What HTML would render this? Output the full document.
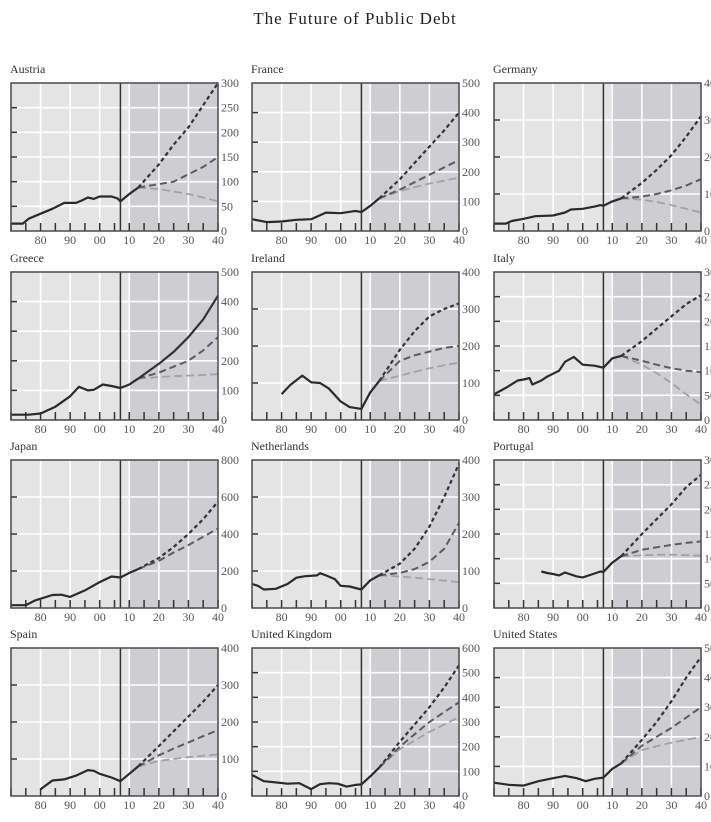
<!DOCTYPE html>
<html><head><meta charset="utf-8">
<style>
html,body{margin:0;padding:0;background:#fff;}
body{width:711px;height:822px;overflow:hidden;position:relative;}
svg{position:absolute;left:0;top:0;}
text{font-family:"Liberation Serif",serif;}
</style></head>
<body>
<svg id="chart" width="711" height="822" viewBox="0 0 711 822">
<text x="355" y="24" text-anchor="middle" font-size="17" letter-spacing="1" fill="#222">The Future of Public Debt</text>
</svg>
<script>
const countries = ["Austria","France","Germany","Greece","Ireland","Italy","Japan","Netherlands","Portugal","Spain","United Kingdom","United States"];
const yMax = [300,500,400,500,400,300,800,400,300,400,600,500];
const yStep = [50,100,100,100,100,50,200,100,50,100,100,100];
const histYears = [
 [1970,1972,1974,1976,1980,1984,1988,1992,1994,1996,1998,2000,2004,2006,2007,2010,2013],
 [1970,1975,1980,1985,1990,1995,2000,2005,2007,2010,2013],
 [1970,1974,1976,1980,1984,1990,1994,1996,2000,2004,2006,2007,2010,2013],
 [1970,1976,1980,1985,1990,1993,1996,1998,2001,2004,2007,2010,2013],
 [1980,1983,1987,1990,1993,1996,2000,2003,2007,2010,2013],
 [1970,1974,1978,1980,1982,1983,1986,1988,1992,1994,1997,2000,2004,2007,2010,2013],
 [1970,1975,1978,1984,1987,1990,1995,2000,2004,2007,2010,2013],
 [1970,1972,1974,1978,1982,1985,1988,1992,1993,1995,1998,2000,2003,2007,2010,2013],
 [1986,1988,1990,1992,1994,1996,1998,2000,2003,2006,2007,2010,2013],
 [1980,1984,1988,1992,1996,1998,2000,2004,2007,2010,2013],
 [1970,1974,1978,1982,1986,1990,1993,1996,1999,2002,2005,2007,2010,2013],
 [1970,1975,1980,1985,1990,1994,1998,2001,2004,2007,2010,2013]
];
const histVals = [
 [15,15,15,25,35,45,57,57,62,68,65,70,70,66,60,75,88],
 [40,30,32,38,40,62,60,68,64,85,110],
 [20,20,27,33,40,42,50,58,60,66,70,68,80,88],
 [18,18,22,45,80,112,100,102,120,115,108,120,140],
 [70,95,120,102,100,85,50,35,30,75,105],
 [52,65,80,82,85,72,80,88,100,118,128,112,110,106,125,130],
 [15,15,40,70,72,60,95,140,170,165,190,210],
 [65,60,50,52,65,82,86,88,94,88,78,60,58,50,75,88],
 [74,71,69,66,72,68,64,62,68,74,73,92,105],
 [18,42,45,55,70,68,60,50,40,60,80],
 [85,60,55,50,52,28,48,52,50,38,45,47,80,115],
 [45,38,35,50,60,68,60,50,58,62,92,110]
];
const projYears = [2013,2020,2025,2030,2035,2040];
const projHigh = [
 [88,135,175,210,255,300],[110,175,230,285,340,400],[88,130,165,205,255,310],
 [140,190,230,280,340,420],[105,190,240,280,300,315],[130,160,185,210,235,253],
 [210,270,330,400,480,575],[88,120,160,220,300,390],[105,150,180,210,245,270],
 [80,135,175,215,255,300],[115,220,290,360,440,530],[110,190,250,320,400,470]
];
const projMid = [
 [88,95,100,115,130,150],[110,140,165,190,215,240],[88,93,100,110,123,140],
 [140,160,180,200,235,280],[105,160,175,185,195,200],[130,120,112,105,100,97],
 [210,255,300,340,385,430],[88,95,105,125,160,230],[105,118,123,128,132,135],
 [80,110,128,145,162,178],[115,200,250,300,340,380],[110,170,200,230,265,300]
];
const projLow = [
 [88,85,80,75,68,60],[110,135,148,160,170,180],[88,85,78,70,60,50],
 [140,145,148,150,152,155],[105,120,130,140,148,155],[130,112,95,75,52,31],
 [],[88,85,82,78,74,70],[105,107,108,108,107,106],
 [80,95,100,105,109,112],[115,190,225,260,290,320],[110,155,168,180,190,200]
];
const highStyle = ["dot","dot","dot","solid","dot","dot","dot","dot","dot","dot","dot","dot"];
const xTickLabels = ["80","90","00","10","20","30","40"];
const xTickYears = [1980,1990,2000,2010,2020,2030,2040];

const NS="http://www.w3.org/2000/svg";
const svg=document.getElementById('chart');
const colX=[11,252,494], rowY=[83,272,460,648], W=207, H=148;
function mk(tag,attrs,parent){const e=document.createElementNS(NS,tag);for(const k in attrs)e.setAttribute(k,attrs[k]);(parent||svg).appendChild(e);return e;}

countries.forEach((name,i)=>{
  const x0=colX[i%3], y0=rowY[Math.floor(i/3)];
  const sx=yr=>x0+(yr-1970)/70*W;
  const sy=v=>y0+H-v/yMax[i]*H;
  const g=mk('g',{});
  
  
  const t=mk('text',{x:x0-1,y:y0-10,'font-size':12,fill:'#333'},g);t.textContent=name;
  
  
  mk('rect',{x:x0,y:y0,width:W,height:H,fill:'#e4e4e4'},g);
  mk('rect',{x:sx(2010),y:y0,width:sx(2040)-sx(2010),height:H,fill:'#cdcdd2'},g);
  for(let v=yStep[i];v<yMax[i];v+=yStep[i]){
    mk('line',{x1:x0,x2:x0+W,y1:sy(v),y2:sy(v),stroke:'#fff','stroke-width':1.6},g);
    mk('line',{x1:x0,x2:x0+6,y1:sy(v),y2:sy(v),stroke:'#333','stroke-width':1.5},g);
  }
  [1980,1990,2000,2010,2020,2030].forEach(yr=>mk('line',{x1:sx(yr),x2:sx(yr),y1:y0,y2:y0+H,stroke:'#fff','stroke-width':1.6},g));
  for(let yr=1970;yr<=2040;yr+=5)mk('line',{x1:sx(yr),x2:sx(yr),y1:y0+H,y2:y0+H-8,stroke:'#333','stroke-width':1.5},g);
  mk('line',{x1:sx(2007),x2:sx(2007),y1:y0,y2:y0+H,stroke:'#333','stroke-width':1.5},g);
  const pts=(ys,vs)=>ys.map((y,k)=>sx(y).toFixed(1)+','+sy(vs[k]).toFixed(1)).join(' ');
  if(projLow[i].length){const l=mk('polyline',{points:pts(projYears,projLow[i]),fill:'none',stroke:'#a2a2a6','stroke-width':1.8,'stroke-dasharray':'8 4'},g);
    
    }
  const m=mk('polyline',{points:pts(projYears,projMid[i]),fill:'none',stroke:'#5c5c60','stroke-width':2,'stroke-dasharray':'7 4'},g);
  
  
  const hA={points:pts(projYears,projHigh[i]),fill:'none',stroke:'#333','stroke-width':2.2};
  if(highStyle[i]==='dot')hA['stroke-dasharray']='4 3';
  const h=mk('polyline',hA,g);
  
  
  const s=mk('polyline',{points:pts(histYears[i],histVals[i]),fill:'none',stroke:'#2a2a2a','stroke-width':2.2,'stroke-linejoin':'round'},g);
  
  
  mk('rect',{x:x0,y:y0,width:W,height:H,fill:'none',stroke:'#4a4a4a','stroke-width':1.5},g);
  for(let v=0;v<=yMax[i];v+=yStep[i]){
    const lt=mk('text',{x:x0+W+3,y:sy(v)+4,'font-size':12,fill:'#555'},g);lt.textContent=v;
    
    
  }
  xTickYears.forEach((yr,k)=>{
    const xt=mk('text',{x:sx(yr),y:y0+H+13,'font-size':12,fill:'#555','text-anchor':'middle'},g);xt.textContent=xTickLabels[k];
    
    
  });
});
</script>
</body></html>
